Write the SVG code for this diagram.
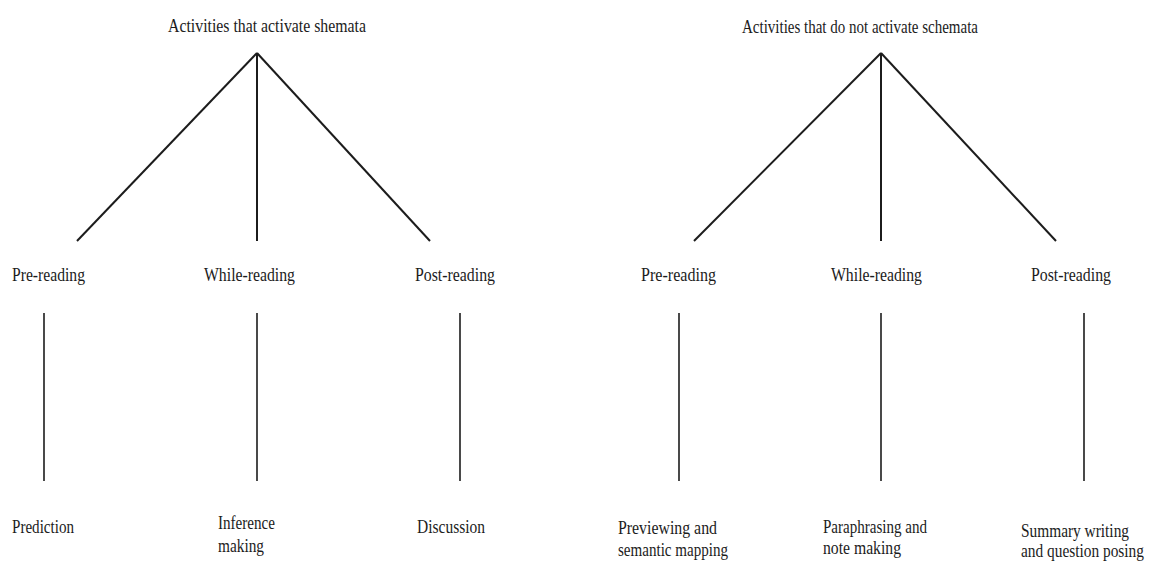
<svg xmlns="http://www.w3.org/2000/svg" width="1150" height="565" viewBox="0 0 1150 565">
  <style>
    text { font-family: "Liberation Serif", "Times New Roman", serif; font-size: 19px; fill: #1c1c1c; }
    text.title { font-size: 18px; }
    .conn line { stroke: #1c1c1c; stroke-width: 2; stroke-linecap: butt; }
    .conn line.v { stroke-width: 1.6; }
  </style>
  <rect width="1150" height="565" fill="#ffffff"/>

  <g id="connectors" class="conn">
    <!-- left tree -->
    <line x1="257" y1="53" x2="77" y2="241"/>
    <line x1="257" y1="53" x2="257" y2="241"/>
    <line x1="257" y1="53" x2="430" y2="241"/>
    <line class="v" x1="44" y1="313" x2="44" y2="481"/>
    <line class="v" x1="257" y1="313" x2="257" y2="481"/>
    <line class="v" x1="460" y1="313" x2="460" y2="481"/>
    <!-- right tree -->
    <line x1="881" y1="53" x2="694" y2="241"/>
    <line x1="881" y1="53" x2="881" y2="241"/>
    <line x1="881" y1="53" x2="1056" y2="241"/>
    <line class="v" x1="679" y1="313" x2="679" y2="481"/>
    <line class="v" x1="881" y1="313" x2="881" y2="481"/>
    <line class="v" x1="1084" y1="313" x2="1084" y2="481"/>
  </g>

  <g id="root-activate"><text class="title" x="168" y="32" textLength="198" lengthAdjust="spacingAndGlyphs">Activities that activate shemata</text></g>
  <g id="root-not-activate"><text class="title" x="742" y="33" textLength="236" lengthAdjust="spacingAndGlyphs">Activities that do not activate schemata</text></g>

  <g id="l-pre"><text x="12" y="281" textLength="73" lengthAdjust="spacingAndGlyphs">Pre-reading</text></g>
  <g id="l-while"><text x="204" y="281" textLength="91" lengthAdjust="spacingAndGlyphs">While-reading</text></g>
  <g id="l-post"><text x="415" y="281" textLength="80" lengthAdjust="spacingAndGlyphs">Post-reading</text></g>

  <g id="r-pre"><text x="641" y="281" textLength="75" lengthAdjust="spacingAndGlyphs">Pre-reading</text></g>
  <g id="r-while"><text x="831" y="281" textLength="91" lengthAdjust="spacingAndGlyphs">While-reading</text></g>
  <g id="r-post"><text x="1031" y="281" textLength="80" lengthAdjust="spacingAndGlyphs">Post-reading</text></g>

  <g id="l-prediction"><text x="12" y="533" textLength="62" lengthAdjust="spacingAndGlyphs">Prediction</text></g>
  <g id="l-inference">
    <text x="218" y="529" textLength="57" lengthAdjust="spacingAndGlyphs">Inference</text>
    <text x="218" y="552" textLength="46" lengthAdjust="spacingAndGlyphs">making</text>
  </g>
  <g id="l-discussion"><text x="417" y="533" textLength="68" lengthAdjust="spacingAndGlyphs">Discussion</text></g>

  <g id="r-previewing">
    <text x="618" y="534" textLength="99" lengthAdjust="spacingAndGlyphs">Previewing and</text>
    <text x="618" y="556" textLength="110" lengthAdjust="spacingAndGlyphs">semantic mapping</text>
  </g>
  <g id="r-paraphrasing">
    <text x="823" y="533" textLength="104" lengthAdjust="spacingAndGlyphs">Paraphrasing and</text>
    <text x="823" y="554" textLength="78" lengthAdjust="spacingAndGlyphs">note making</text>
  </g>
  <g id="r-summary" transform="translate(1021,0) scale(0.81,1)">
    <text x="0" y="537">Summary writing</text>
    <text x="0" y="557">and question posing</text>
  </g>
</svg>
